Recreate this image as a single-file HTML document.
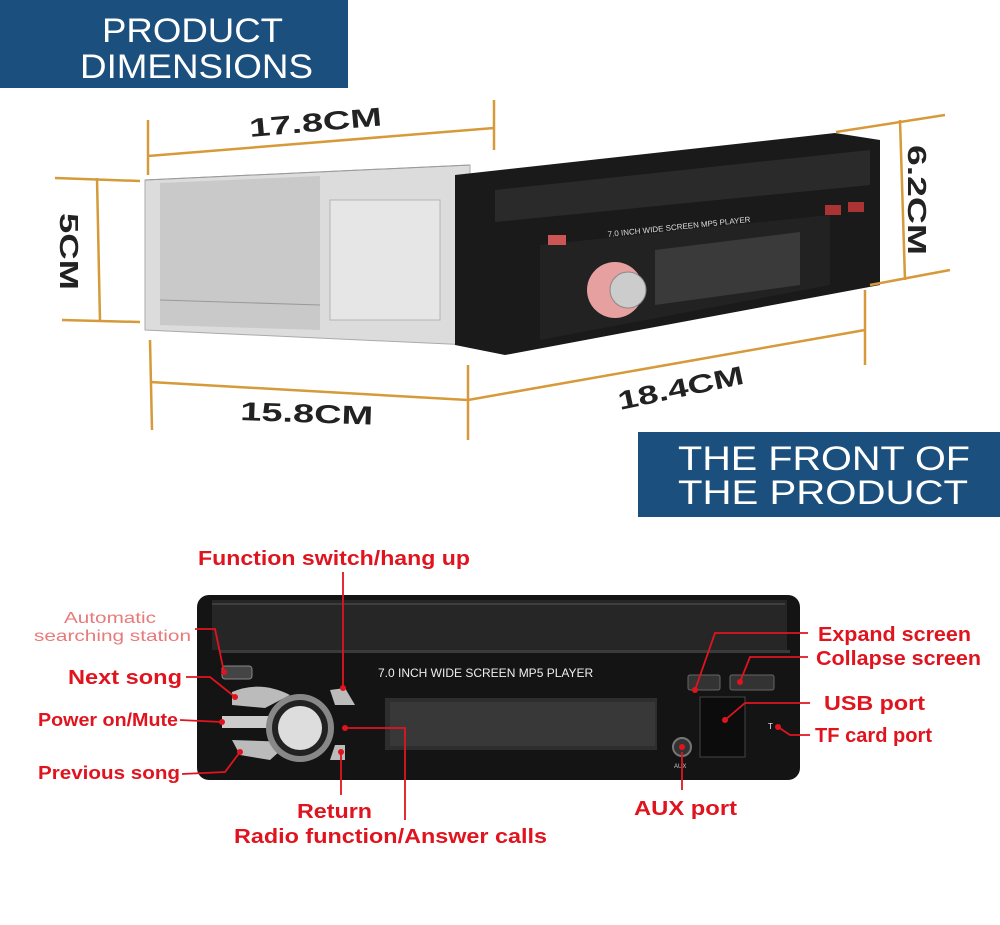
<!DOCTYPE html>
<html><head><meta charset="utf-8"><style>
html,body{margin:0;padding:0;background:#fff;}
svg{display:block;font-family:"Liberation Sans",sans-serif;}
</style></head><body>
<svg width="1000" height="925" viewBox="0 0 1000 925" xmlns="http://www.w3.org/2000/svg">
<rect width="1000" height="925" fill="#fff"/>
<rect x="0" y="0" width="348" height="88" fill="#1b4f7d"/>
<text x="102" y="42" font-size="34" fill="#fff" textLength="181" lengthAdjust="spacingAndGlyphs">PRODUCT</text>
<text x="80" y="78" font-size="34" fill="#fff" textLength="233" lengthAdjust="spacingAndGlyphs">DIMENSIONS</text>
<rect x="638" y="432" width="362" height="85" fill="#1b4f7d"/>
<text x="678" y="470" font-size="34" fill="#fff" textLength="292" lengthAdjust="spacingAndGlyphs">THE FRONT OF</text>
<text x="678" y="504" font-size="34" fill="#fff" textLength="290" lengthAdjust="spacingAndGlyphs">THE PRODUCT</text>

<polygon points="145,180 470,165 470,345 145,330" fill="#dcdcdc" stroke="#aaa"/>
<polygon points="160,183 320,176 320,330 160,325" fill="#c9c9c9"/>
<rect x="330" y="200" width="110" height="120" fill="#e6e6e6" stroke="#b5b5b5"/>
<line x1="160" y1="300" x2="320" y2="305" stroke="#999"/>
<line x1="145" y1="180" x2="470" y2="165" stroke="#999"/>
<polygon points="455,175 835,133 880,140 880,285 505,355 455,345" fill="#1a1a1a"/>
<polygon points="495,190 870,150 870,185 495,222" fill="#2a2a2a"/>
<polygon points="540,245 830,215 830,285 540,340" fill="#222"/>
<polygon points="655,250 800,232 800,285 655,305" fill="#3a3a3a"/>
<text x="608" y="237" font-size="8" fill="#ddd" transform="rotate(-6 608 237)">7.0 INCH WIDE SCREEN  MP5  PLAYER</text>
<circle cx="615" cy="290" r="28" fill="#e7a0a0"/>
<circle cx="628" cy="290" r="18" fill="#ccc" stroke="#888"/>
<rect x="548" y="235" width="18" height="10" fill="#c55"/>
<rect x="825" y="205" width="16" height="10" fill="#a33"/>
<rect x="848" y="202" width="16" height="10" fill="#a33"/>

<g stroke="#d69a3a" stroke-width="2.5" fill="none">
<line x1="148" y1="120" x2="148" y2="175"/>
<line x1="494" y1="100" x2="494" y2="150"/>
<line x1="148" y1="156" x2="494" y2="128"/>
<line x1="55" y1="178" x2="140" y2="181"/>
<line x1="62" y1="320" x2="140" y2="322"/>
<line x1="97" y1="178" x2="100" y2="322"/>
<line x1="150" y1="340" x2="152" y2="430"/>
<line x1="468" y1="365" x2="468" y2="440"/>
<line x1="150" y1="382" x2="468" y2="400"/>
<line x1="468" y1="400" x2="865" y2="330"/>
<line x1="865" y1="290" x2="865" y2="365"/>
<line x1="836" y1="132" x2="945" y2="115"/>
<line x1="870" y1="285" x2="950" y2="270"/>
<line x1="900" y1="120" x2="905" y2="280"/>
</g>
<g fill="#222" font-size="26" font-weight="bold">
<text x="250" y="137" transform="rotate(-5 250 137)" textLength="133" lengthAdjust="spacingAndGlyphs">17.8CM</text>
<text x="240" y="420" transform="rotate(2 240 420)" textLength="133" lengthAdjust="spacingAndGlyphs">15.8CM</text>
<text x="620" y="410" transform="rotate(-12 620 410)" textLength="128" lengthAdjust="spacingAndGlyphs">18.4CM</text>
<text x="60" y="213" transform="rotate(90 60 213)" textLength="77" lengthAdjust="spacingAndGlyphs">5CM</text>
<text x="908" y="145" transform="rotate(90 908 145)" textLength="110" lengthAdjust="spacingAndGlyphs">6.2CM</text>
</g>

<rect x="197" y="595" width="603" height="185" rx="12" fill="#141414"/>
<rect x="212" y="600" width="575" height="50" fill="#262626"/>
<line x1="212" y1="604" x2="785" y2="604" stroke="#555"/>
<rect x="220" y="650" width="570" height="3" fill="#3a3a3a"/>
<text x="378" y="677" font-size="12" fill="#eee">7.0 INCH WIDE SCREEN   MP5  PLAYER</text>
<rect x="385" y="698" width="272" height="52" fill="#2e2e2e"/>
<rect x="390" y="702" width="265" height="44" fill="#383838"/>
<rect x="222" y="666" width="30" height="13" rx="3" fill="#444" stroke="#888"/>
<path d="M232,692 Q260,680 290,695 L265,708 L232,705Z" fill="#bbb"/>
<path d="M222,716 L285,716 L285,728 L222,728Z" fill="#ccc"/>
<path d="M232,740 L290,742 L270,760 L240,755Z" fill="#bbb"/>
<path d="M330,690 L345,688 L355,705 L335,705Z" fill="#bbb"/>
<path d="M335,745 L345,745 L345,760 L330,760Z" fill="#bbb"/>
<circle cx="300" cy="728" r="34" fill="#888"/>
<circle cx="300" cy="728" r="28" fill="#222"/>
<circle cx="300" cy="728" r="22" fill="#ddd"/>
<rect x="688" y="675" width="32" height="15" rx="2" fill="#333" stroke="#666"/>
<rect x="730" y="675" width="44" height="15" rx="2" fill="#333" stroke="#666"/>
<rect x="700" y="697" width="45" height="60" fill="#0c0c0c" stroke="#444"/>
<circle cx="682" cy="747" r="9" fill="#333" stroke="#777" stroke-width="2"/>
<text x="674" y="768" font-size="6" fill="#ccc">AUX</text>
<text x="768" y="729" font-size="8" fill="#eee">T</text>

<g stroke="#e0141e" stroke-width="1.8" fill="none">
<line x1="343" y1="572" x2="343" y2="688"/>
<polyline points="195,629 215,629 224,672"/>
<polyline points="186,677 210,677 235,697"/>
<line x1="180" y1="720" x2="222" y2="722"/>
<polyline points="182,774 225,772 240,752"/>
<line x1="341" y1="752" x2="341" y2="795"/>
<polyline points="345,728 405,728 405,820"/>
<polyline points="695,690 715,633 808,633"/>
<polyline points="740,682 750,657 808,657"/>
<polyline points="725,720 745,703 810,703"/>
<polyline points="778,727 790,735 810,735"/>
<line x1="682" y1="752" x2="682" y2="790"/>
</g>
<g fill="#e0141e">
<circle cx="343" cy="688" r="3"/><circle cx="224" cy="672" r="3"/><circle cx="235" cy="697" r="3"/><circle cx="222" cy="722" r="3"/><circle cx="240" cy="752" r="3"/><circle cx="341" cy="752" r="3"/><circle cx="345" cy="728" r="3"/><circle cx="695" cy="690" r="3"/><circle cx="740" cy="682" r="3"/><circle cx="725" cy="720" r="3"/><circle cx="778" cy="727" r="3"/><circle cx="682" cy="747" r="3"/>
</g>
<g fill="#e0141e" font-size="20" font-weight="bold">
<text x="198" y="565" textLength="272" lengthAdjust="spacingAndGlyphs">Function switch/hang up</text>
<text x="64" y="623" font-size="16" font-weight="normal" fill="#e87a7a" textLength="92" lengthAdjust="spacingAndGlyphs">Automatic</text>
<text x="34" y="641" font-size="16" font-weight="normal" fill="#e87a7a" textLength="157" lengthAdjust="spacingAndGlyphs">searching station</text>
<text x="68" y="684" textLength="114" lengthAdjust="spacingAndGlyphs">Next song</text>
<text x="38" y="726" font-size="18" textLength="140" lengthAdjust="spacingAndGlyphs">Power on/Mute</text>
<text x="38" y="779" font-size="18" textLength="142" lengthAdjust="spacingAndGlyphs">Previous song</text>
<text x="297" y="818" textLength="75" lengthAdjust="spacingAndGlyphs">Return</text>
<text x="234" y="843" textLength="313" lengthAdjust="spacingAndGlyphs">Radio function/Answer calls</text>
<text x="818" y="641" textLength="153" lengthAdjust="spacingAndGlyphs">Expand screen</text>
<text x="816" y="665" textLength="165" lengthAdjust="spacingAndGlyphs">Collapse screen</text>
<text x="824" y="710" textLength="101" lengthAdjust="spacingAndGlyphs">USB port</text>
<text x="815" y="742" textLength="117" lengthAdjust="spacingAndGlyphs">TF card port</text>
<text x="634" y="815" textLength="103" lengthAdjust="spacingAndGlyphs">AUX port</text>
</g>
</svg>
</body></html>
